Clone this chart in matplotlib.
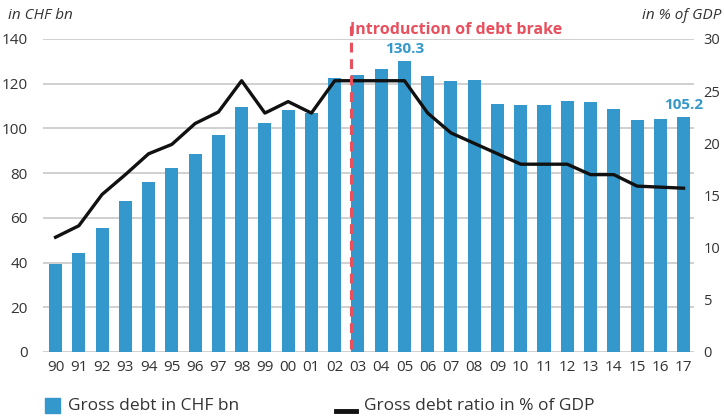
import matplotlib.pyplot as plt
import numpy as np

# Données
years = ['90', '91', '92', '93', '94', '95', '96', '97', '98', '99', '00', '01', '02', '03',
         '04', '05', '06', '07', '08', '09', '10', '11', '12', '13', '14', '15', '16', '17']
debt_chf = [39.5, 44.4, 55.5, 67.5, 76.0, 82.3, 88.6, 97.0, 109.6, 102.4, 108.2, 106.9, 122.5, 123.7,
            126.6, 130.3, 123.4, 121.2, 121.6, 110.9, 110.5, 110.5, 112.3, 111.8, 108.7, 103.8, 104.2, 105.2]
debt_ratio = [11.0, 12.1, 15.1, 17.0, 19.0, 19.9, 21.9, 23.0, 26.0, 22.9, 24.0, 22.9, 26.0, 26.0,
              26.0, 26.0, 22.9, 21.0, 20.0, 19.0, 18.0, 18.0, 18.0, 17.0, 17.0, 15.9, 15.8, 15.7]
brake_pos = 12.7
labelled = {15: '130.3', 27: '105.2'}

BLUE = '#3598cc'
RED = '#e8505e'
TXT = '#333333'

plt.rcParams['font.family'] = ['Open Sans', 'DejaVu Sans']

fig = plt.figure(figsize=(7.24, 4.18), dpi=100)
ax = fig.add_axes([0.0594, 0.1579, 0.8992, 0.7488])
x = np.arange(len(years))

ax.bar(x, debt_chf, width=0.56, color=BLUE, zorder=2)
ax.set_ylim(0, 140)
ax.set_xlim(-0.54, 27.45)
ax.set_yticks(range(0, 141, 20))
ax.grid(True, axis='y', color='#c8c8c8', linewidth=1.2, zorder=0)
ax.set_xticks(x)
ax.set_xticklabels(years)
for s in ax.spines.values():
    s.set_visible(False)
ax.tick_params(axis='both', length=0, labelsize=11, colors=TXT)
ax.tick_params(axis='x', pad=6)
ax.tick_params(axis='y', pad=11)

for i, lab in labelled.items():
    ax.text(x[i], debt_chf[i] + 2.0, lab, ha='center', va='bottom', color=BLUE,
            fontsize=11, fontweight='bold')

ax2 = ax.twinx()
ax2.set_ylim(0, 30)
ax2.set_yticks(range(0, 31, 5))
for s in ax2.spines.values():
    s.set_visible(False)
ax2.tick_params(axis='y', length=0, labelsize=10.5, colors=TXT, pad=7)
ax2.plot(x, debt_ratio, color='#111111', linewidth=2.4, zorder=3)
ax2.axvline(brake_pos, ymin=0.01, ymax=1.05, color=RED, linestyle=(0, (3.2, 2.2)),
            linewidth=2.2, clip_on=False, zorder=4)
ax2.text(brake_pos - 0.05, 30.9, 'Introduction of debt brake', color=RED, fontsize=11.5,
         fontweight='bold', ha='left', va='center')

fig.text(0.011, 0.963, 'in CHF bn', fontsize=11, fontstyle='italic', color=TXT, va='center')
fig.text(0.997, 0.963, 'in % of GDP', fontsize=11, fontstyle='italic', color=TXT,
         va='center', ha='right')

# Légende manuelle en bas
fig.patches.append(plt.Rectangle((0.062, 0.012), 0.021, 0.036, transform=fig.transFigure,
                                 color=BLUE))
fig.text(0.094, 0.028, 'Gross debt in CHF bn', fontsize=12.5, color=TXT, va='center')
fig.lines.append(plt.Line2D([0.464, 0.492], [0.017, 0.017], transform=fig.transFigure,
                            color='#111111', linewidth=3.5))
fig.text(0.503, 0.028, 'Gross debt ratio in % of GDP', fontsize=12.5, color=TXT, va='center')

plt.savefig('out.png', dpi=100)
plt.close()
